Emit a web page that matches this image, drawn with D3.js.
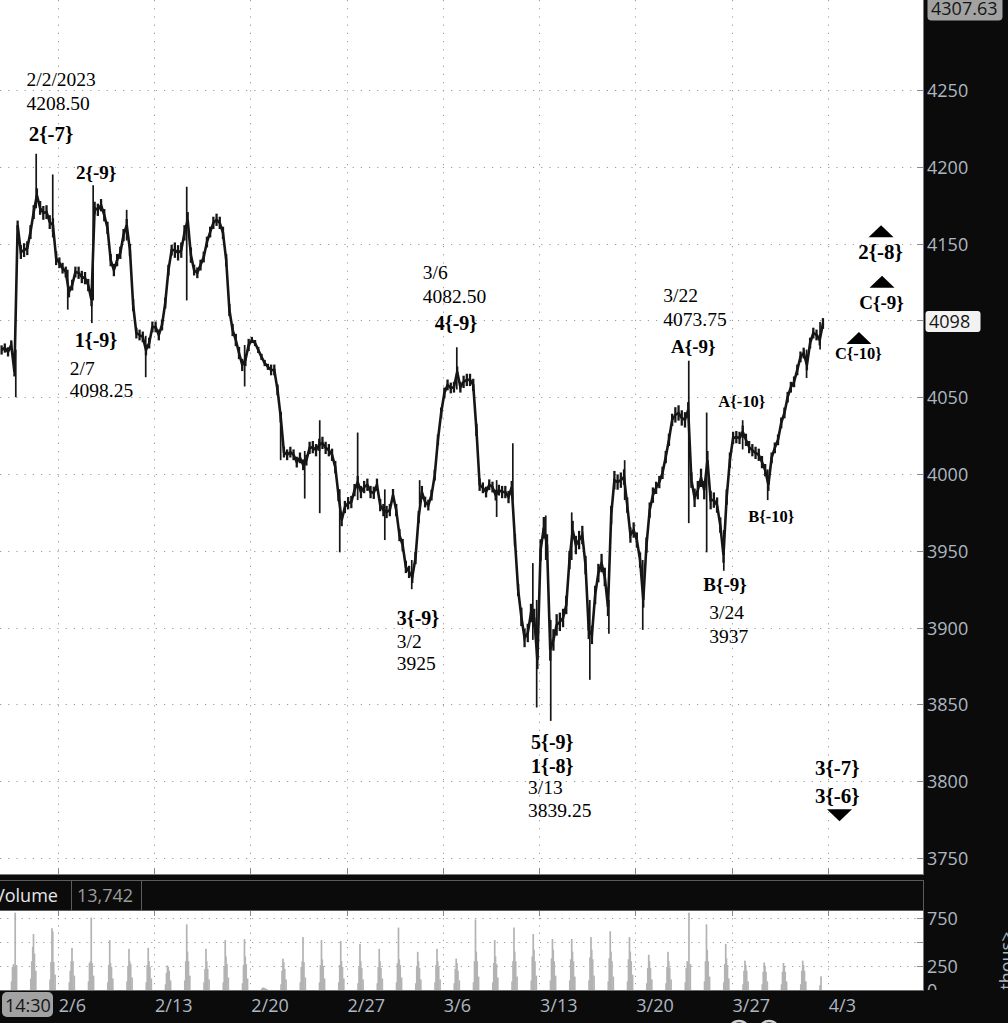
<!DOCTYPE html>
<html>
<head>
<meta charset="utf-8">
<script src="https://cdn.jsdelivr.net/npm/d3@7"></script>
<style>
  html, body { margin: 0; padding: 0; background: #0b0b0b; overflow: hidden; }
  svg { display: block; }
</style>
</head>
<body>
<svg id="chart" width="1008" height="1023"></svg>
<script>
// ---- ES futures, 2/1/2023 - 3/31/2023, intraday ----

// trading sessions shown (first session = day index -3)
const sessions = [
  "2/1","2/2","2/3",
  "2/6","2/7","2/8","2/9","2/10",
  "2/13","2/14","2/15","2/16","2/17",
  "2/20","2/21","2/22","2/23","2/24",
  "2/27","2/28","3/1","3/2","3/3",
  "3/6","3/7","3/8","3/9","3/10",
  "3/13","3/14","3/15","3/16","3/17",
  "3/20","3/21","3/22","3/23","3/24",
  "3/27","3/28","3/29","3/30","3/31"
];

// price path, six readings per session
const sessionPrices = [
  [4080.75, 4082, 4079.5, 4084, 4066.5, 4162],
  [4144.5, 4145.75, 4147, 4157.5, 4170.5, 4181.5],
  [4173.25, 4170, 4170.5, 4164, 4162, 4140.5],
  [4137.5, 4134, 4131.5, 4118.5, 4123, 4131.5],
  [4131, 4128.25, 4127.5, 4123, 4113.25, 4173.25],
  [4172, 4175, 4168.5, 4160.25, 4139.25, 4132.75],
  [4139.25, 4144, 4155.5, 4162, 4145.75, 4110],
  [4091.75, 4090.5, 4089.25, 4080.75, 4085.25, 4095.75],
  [4095.75, 4090.5, 4097, 4111.25, 4132.75, 4145.75],
  [4145.75, 4144, 4145.75, 4157, 4165.5, 4142.5],
  [4132.75, 4131, 4136, 4141.25, 4151, 4157.5],
  [4163.5, 4165.5, 4163.5, 4157, 4139.25, 4106.75],
  [4093.75, 4087.25, 4078.75, 4071, 4074.25, 4084],
  [4087.25, 4085.25, 4080.75, 4076.25, 4072.25, 4069.75],
  [4067.75, 4067.75, 4054.75, 4037, 4014.25, 4012.5],
  [4014.25, 4012.5, 4007.75, 4010.5, 4006, 4009],
  [4017, 4017.5, 4015.5, 4019, 4020.25, 4017],
  [4015.5, 4012.5, 4004.5, 3986.25, 3970, 3978.5],
  [3981, 3981.75, 3989.5, 3994.75, 3988.25, 3991.5],
  [3993, 3988.25, 3987.75, 3993, 3979.75, 3976.5],
  [3975.25, 3976.5, 3986.25, 3976.5, 3960.25, 3953.75],
  [3939.5, 3936.25, 3933, 3945.25, 3972, 3988.25],
  [3981.75, 3979.75, 3986.25, 3999.25, 4022.25, 4039.75],
  [4052.75, 4058, 4056, 4056.5, 4066.5, 4056.5],
  [4060, 4061.25, 4061.25, 4058, 4028.75, 3993],
  [3991, 3988.25, 3993, 3991.5, 3986.25, 3989.5],
  [3988.25, 3988.25, 3985, 3991.5, 3957, 3924.5],
  [3907, 3893.25, 3896.5, 3909.5, 3906.25, 3879],
  [3950.5, 3965, 3953.75, 3885.5, 3892, 3901.75],
  [3903.75, 3906.25, 3914.75, 3944, 3963.5, 3953.75],
  [3957, 3960.25, 3940.75, 3898.5, 3895.25, 3921.25],
  [3935.5, 3942, 3933, 3913.5, 3973.25, 3996],
  [3994.75, 3996, 3998, 3979.75, 3960.25, 3963.5],
  [3957, 3944, 3918, 3953.75, 3976.5, 3986.25],
  [3991, 3994.75, 4000.75, 4011, 4022.25, 4035.25],
  [4038.5, 4039.75, 4036.5, 4035.25, 4041.75, 3996],
  [3984.5, 3989.5, 3997.5, 3989.5, 4009, 3983],
  [3983, 3979.75, 3966.75, 3947.25, 3985, 4009],
  [4023.5, 4024, 4023.5, 4027.5, 4022.25, 4017.5],
  [4015.5, 4013.75, 4012.5, 4007.75, 4002.5, 3993],
  [4010.5, 4017, 4022.25, 4033.25, 4039.75, 4050],
  [4056.5, 4060, 4067.75, 4076.25, 4078.75, 4071],
  [4085.25, 4091.75, 4090.5, 4087.25, 4098]
];

// typical bar range (high - low, points) in each session
const sessionRange = [
  6, 9, 9, 7, 8, 8, 8, 7,
  7, 10, 7, 8, 8,
  4, 7, 7, 8, 8,
  8, 8, 8, 8, 7,
  7, 8, 7, 8, 12,
  14, 12, 12, 12, 10,
  10, 8, 10, 12, 10,
  8, 8, 7, 7, 7
];

// intraday spikes: [day, high, low]
const wicks = [
  [-2.18, 4081, 4050], [-0.26, 4195, 4154], [0.52, 4133, 4107],
  [1.84, 4188, 4113], [3.58, 4172, 4152], [4.57, 4090, 4063],
  [6.70, 4187, 4113], [9.71, 4084, 4057], [11.58, 4040, 4009],
  [12.83, 4015, 3984], [13.61, 4035, 3974.5], [14.65, 3990, 3949],
  [15.58, 4027, 3983], [16.99, 3990, 3957], [18.80, 3996, 3980],
  [22.80, 3996, 3972], [23.64, 4020, 3983], [24.68, 3942, 3892],
  [24.88, 3918, 3848], [25.35, 3973, 3944], [26.70, 3975, 3944],
  [27.64, 3918, 3866], [28.63, 3918, 3896], [29.45, 4009, 3983],
  [30.39, 3944, 3898.5], [33.71, 4040, 3949], [35.58, 4035, 4016],
  [36.88, 4003, 3983], [38.90, 4081, 4062.5], [39.60, 4099, 4081]
];

// labelled swing points
const pivotDates  = ["2/2/2023", "2/7", "3/2", "3/6", "3/13", "3/22", "3/24"];
const pivotPrices = [4208.50, 4098.25, 3925, 4082.50, 3839.25, 4073.75, 3937];
const pivotDays   = [-1.12, 1.77, 18.39, 20.73, 25.61, 32.78, 34.60];
const pivotOther  = [4173, 4126, 3944, 4055, 3905, 3968, 3963.5];
const pivotWaves  = [["2{-7}"], ["1{-9}"], ["3{-9}"], ["4{-9}"], ["5{-9}", "1{-8}"], ["A{-9}"], ["B{-9}"]];

// smaller wave marks on spikes
const minorLabels = ["2{-9}", "A{-10}", "B{-10}"];
const minorDays   = [1.84, 35.58, 36.88];
const minorPrices = [4188, 4035, 3983];

// projected levels
const targetLabels = [["2{-8}"], ["C{-9}"], ["C{-10}"], ["3{-7}", "3{-6}"]];
const targetPrices = [4162, 4129, 4092.5, 3774];
const targetDir    = ["up", "up", "up", "down"];

// volume (thousands), six bars around the cash session of each day
const sessionVolume = [
  [90, 240, 270, 250, 806, 260],
  [120, 300, 449, 582, 380, 200],
  [110, 292, 643, 610, 292, 160],
  [80, 200, 300, 439, 300, 150],
  [90, 280, 300, 755, 280, 150],
  [80, 260, 520, 280, 240, 120],
  [90, 250, 429, 300, 270, 130],
  [80, 260, 439, 300, 240, 120],
  [60, 180, 255, 240, 200, 100],
  [100, 300, 684, 400, 300, 150],
  [80, 220, 429, 300, 220, 110],
  [80, 250, 520, 350, 270, 130],
  [70, 260, 530, 350, 270, 120],
  [15, 25, 25, 20, 15, 10],
  [60, 200, 327, 290, 220, 110],
  [80, 240, 300, 551, 290, 130],
  [80, 260, 520, 320, 250, 120],
  [80, 260, 510, 300, 240, 120],
  [70, 250, 480, 300, 230, 110],
  [70, 240, 429, 300, 230, 120],
  [80, 280, 650, 320, 260, 130],
  [70, 250, 398, 300, 230, 110],
  [80, 260, 429, 300, 240, 110],
  [70, 220, 327, 280, 200, 100],
  [80, 300, 735, 400, 300, 140],
  [80, 280, 520, 350, 270, 130],
  [90, 300, 650, 400, 300, 140],
  [100, 350, 582, 420, 300, 150],
  [100, 330, 531, 420, 300, 150],
  [100, 320, 531, 400, 300, 140],
  [100, 340, 551, 420, 320, 150],
  [90, 330, 612, 400, 300, 140],
  [90, 320, 551, 400, 300, 160],
  [70, 230, 367, 300, 230, 110],
  [70, 240, 398, 300, 230, 110],
  [80, 230, 300, 280, 806, 270],
  [90, 300, 684, 420, 300, 140],
  [80, 270, 480, 330, 260, 120],
  [60, 200, 306, 260, 200, 90],
  [60, 190, 286, 250, 190, 90],
  [60, 190, 282, 250, 190, 90],
  [60, 200, 306, 260, 200, 90],
  [50, 143]
];

const weekLabels = ["2/6", "2/13", "2/20", "2/27", "3/6", "3/13", "3/20", "3/27", "4/3"];
const priceTicks = [3750, 3800, 3850, 3900, 3950, 4000, 4050, 4100, 4150, 4200, 4250];
const volumeTicks = [250, 500, 750];
const scaleTop = 4307.63;
const lastPrice = 4098;
const lastVolume = "13,742";
const cursorTime = "14:30";

// ---- layout ----
const W = 1008, H = 1023;
const plotRight = 923;
const priceTop = 0, priceBottom = 874;
const volTop = 911, volBottom = 990;
const svg = d3.select("#chart");

const x = d3.scaleLinear().domain([-3, 45]).range([0, 924]);
const y = d3.scaleLinear().domain([3750, 4250]).range([858, 90]);
const yv = d3.scaleLinear().domain([0, 750]).range([990, 918]);

const axisColor = "#aeb7c1";
const sans = "'Open Sans', 'Noto Sans', sans-serif";
const serif = "'Liberation Serif', 'Times New Roman', serif";

svg.append("rect").attr("width", W).attr("height", H).attr("fill", "#0b0b0b");

// panels
svg.append("rect").attr("x", 0).attr("y", priceTop).attr("width", plotRight).attr("height", priceBottom - priceTop).attr("fill", "#ffffff");
svg.append("rect").attr("x", 0).attr("y", volTop).attr("width", plotRight).attr("height", volBottom - volTop).attr("fill", "#ffffff");

const grid = svg.append("g").attr("stroke", "#9a9a9a").attr("stroke-width", 1).attr("stroke-dasharray", "1.2,7");
// horizontal price grid
grid.selectAll("line.hp").data(priceTicks).join("line")
  .attr("x1", 0).attr("x2", plotRight - 6)
  .attr("y1", d => Math.round(y(d)) + 0.5).attr("y2", d => Math.round(y(d)) + 0.5);
// vertical week grid
const weekDays = weekLabels.map((d, i) => i * 5);
grid.selectAll("line.vp").data(weekDays).join("line")
  .attr("x1", d => Math.round(x(d)) + 0.5).attr("x2", d => Math.round(x(d)) + 0.5)
  .attr("y1", priceTop).attr("y2", priceBottom);
const vgrid = svg.append("g").attr("stroke", "#9a9a9a").attr("stroke-width", 1).attr("stroke-dasharray", "1.2,6");
vgrid.selectAll("line.hv").data(volumeTicks).join("line")
  .attr("x1", 0).attr("x2", plotRight - 6)
  .attr("y1", d => Math.round(yv(d)) + 0.5).attr("y2", d => Math.round(yv(d)) + 0.5);
vgrid.selectAll("line.vv").data(weekDays).join("line")
  .attr("x1", d => Math.round(x(d)) + 0.5).attr("x2", d => Math.round(x(d)) + 0.5)
  .attr("y1", volTop).attr("y2", volBottom);

// solid week ticks at panel edges
const edgeTicks = svg.append("g").attr("stroke", "#888").attr("stroke-width", 1);
weekDays.forEach(d => {
  const xx = Math.round(x(d)) + 0.5;
  edgeTicks.append("line").attr("x1", xx).attr("x2", xx).attr("y1", priceBottom - 6).attr("y2", priceBottom);
  edgeTicks.append("line").attr("x1", xx).attr("x2", xx).attr("y1", volTop).attr("y2", volTop + 5);
});

// ---- price ----
const pricePoints = [];
sessionPrices.forEach((vals, i) => {
  const day = i - 3;
  vals.forEach((v, k) => pricePoints.push({ t: day + (k + 0.5) / 6, v, r: sessionRange[i] }));
});

const ink = "#161616";
svg.append("g").attr("stroke", ink).attr("stroke-width", 1.7)
  .selectAll("line").data(wicks).join("line")
  .attr("x1", d => x(d[0])).attr("x2", d => x(d[0]))
  .attr("y1", d => y(d[1])).attr("y2", d => y(d[2]));

svg.append("g").attr("stroke", ink).attr("stroke-width", 1.7)
  .selectAll("line").data(pivotPrices).join("line")
  .attr("x1", (d, i) => x(pivotDays[i])).attr("x2", (d, i) => x(pivotDays[i]))
  .attr("y1", d => y(d)).attr("y2", (d, i) => y(pivotOther[i]));

// intraday bars: each reading spans its session's typical range
svg.append("g").attr("stroke", ink).attr("stroke-width", 2.3)
  .selectAll("line").data(pricePoints).join("line")
  .attr("x1", d => x(d.t)).attr("x2", d => x(d.t))
  .attr("y1", d => y(d.v + d.r / 2)).attr("y2", d => y(d.v - d.r / 2));

svg.append("path").datum(pricePoints)
  .attr("fill", "none").attr("stroke", ink).attr("stroke-width", 2.6)
  .attr("stroke-linejoin", "miter")
  .attr("d", d3.line().x(d => x(d.t)).y(d => y(d.v)));

// ---- volume ----
const volOffsets = [0.60, 0.65, 0.70, 0.74, 0.79, 0.86];
const volBars = [];
sessionVolume.forEach((vals, i) => {
  const day = i - 3;
  vals.forEach((v, k) => volBars.push([day + volOffsets[k], v]));
});
svg.append("g").attr("fill", "#b3b3b3")
  .selectAll("rect").data(volBars).join("rect")
  .attr("x", d => x(d[0]) - 0.85).attr("width", 1.7)
  .attr("y", d => Math.max(volTop, yv(d[1])))
  .attr("height", d => volBottom - Math.max(volTop, yv(d[1])));

// ---- panel frames ----
svg.append("line").attr("x1", plotRight + 0.5).attr("x2", plotRight + 0.5).attr("y1", 0).attr("y2", priceBottom).attr("stroke", "#7a7a7a");
svg.append("line").attr("x1", 0).attr("x2", plotRight + 1).attr("y1", priceBottom + 0.5).attr("y2", priceBottom + 0.5).attr("stroke", "#7a7a7a");
svg.append("line").attr("x1", plotRight + 0.5).attr("x2", plotRight + 0.5).attr("y1", volTop).attr("y2", volBottom).attr("stroke", "#7a7a7a");

// right price axis
const pAxis = svg.append("g");
priceTicks.forEach(t => {
  const yy = Math.round(y(t)) + 0.5;
  pAxis.append("line").attr("x1", plotRight - 6).attr("x2", plotRight).attr("y1", yy).attr("y2", yy).attr("stroke", "#8a8a8a");
  pAxis.append("text").attr("x", 927).attr("y", yy + 6.5).text(t)
    .attr("fill", axisColor).attr("font-family", sans).attr("font-size", 18);
});
// scale top value
pAxis.append("rect").attr("x", 927.5).attr("y", -4).attr("width", 75).attr("height", 24.5).attr("rx", 4)
  .attr("fill", "#a2a2a2");
pAxis.append("text").attr("x", 931).attr("y", y(scaleTop) + 13.5).text(scaleTop.toFixed(2))
  .attr("fill", "#151515").attr("font-family", sans).attr("font-size", 18);
// last price
const ly = y(lastPrice) - 2;
pAxis.append("rect").attr("x", 925.5).attr("y", ly - 10.5).attr("width", 55).attr("height", 21).attr("rx", 3)
  .attr("fill", "#f2f2f2");
pAxis.append("text").attr("x", 929).attr("y", ly + 6.5).text(lastPrice)
  .attr("fill", "#151515").attr("font-family", sans).attr("font-size", 18);

// volume header bar
svg.append("rect").attr("x", -2).attr("y", 880.5).attr("width", plotRight + 2.5).attr("height", 30)
  .attr("fill", "#0b0b0b").attr("stroke", "#5c5c5c");
[71.5, 141.5].forEach(xx => svg.append("line").attr("x1", xx).attr("x2", xx).attr("y1", 880.5).attr("y2", 910.5).attr("stroke", "#5c5c5c"));
svg.append("text").attr("x", -6).attr("y", 902).text("Volume").attr("fill", "#e6e6e6").attr("font-family", sans).attr("font-size", 18);
svg.append("text").attr("x", 77).attr("y", 902).text(lastVolume).attr("fill", "#9c9c9c").attr("font-family", sans).attr("font-size", 18);

// right volume axis
const vAxis = svg.append("g");
volumeTicks.forEach(t => {
  const yy = Math.round(yv(t)) + 0.5;
  vAxis.append("line").attr("x1", plotRight - 6).attr("x2", plotRight).attr("y1", yy).attr("y2", yy).attr("stroke", "#8a8a8a");
});
[750, 250, 0].forEach(t => {
  vAxis.append("text").attr("x", 927).attr("y", yv(t) + 6.5).text(t)
    .attr("fill", axisColor).attr("font-family", sans).attr("font-size", 18);
});
vAxis.append("text").attr("transform", "translate(1013,1000) rotate(-90)").text("<thous>")
  .attr("fill", axisColor).attr("font-family", sans).attr("font-size", 18);

// bottom time axis
svg.append("rect").attr("x", 0).attr("y", volBottom).attr("width", W).attr("height", H - volBottom).attr("fill", "#0b0b0b");
svg.append("line").attr("x1", 0).attr("x2", plotRight + 1).attr("y1", volBottom + 0.5).attr("y2", volBottom + 0.5).attr("stroke", "#6a6a6a");
weekLabels.forEach((lab, i) => {
  svg.append("text").attr("x", x(weekDays[i]) + 1).attr("y", 1012).text(lab)
    .attr("fill", axisColor).attr("font-family", sans).attr("font-size", 18);
});
svg.append("rect").attr("x", 2).attr("y", 992).attr("width", 51).attr("height", 25).attr("rx", 5).attr("fill", "#a2a2a2");
svg.append("text").attr("x", 5).attr("y", 1011.5).text(cursorTime).attr("fill", "#151515").attr("font-family", sans).attr("font-size", 18);
// toolbar glyphs peeking in at the bottom edge
[739, 769].forEach(cx => svg.append("circle").attr("cx", cx).attr("cy", 1031).attr("r", 10).attr("fill", "none").attr("stroke", "#cfcfcf").attr("stroke-width", 2.5));

// ---- annotations ----
const ann = svg.append("g").attr("fill", "#000");
function label(px, py, text, bold, size) {
  ann.append("text").attr("x", px).attr("y", py).text(text)
    .attr("font-family", serif).attr("font-weight", bold ? "bold" : "normal")
    .attr("font-size", size);
}
const fmtPrice = v => Number.isInteger(v) ? String(v) : v.toFixed(2);

// per pivot: [kind, dx, dy, size] entries; kind = date | price | wave index
const pivotLayout = [
  [["date", -9.7, -67.7, 19.5], ["price", -9.7, -43.7, 19.5], [0, -7.4, -12.7, 21]],
  [[0, -17, 23.6, 20], ["date", -22, 52, 19.5], ["price", -22, 73.6, 19.5]],
  [[0, -15, 36, 20], ["date", -15, 59, 19.5], ["price", -15, 81, 19.5]],
  [["date", -34, -68.3, 19.5], ["price", -34, -44.6, 19.5], [0, -22, -17.3, 20]],
  [[0, -19.7, 28, 20], [1, -19.7, 52, 20], ["date", -22.7, 73, 19.5], ["price", -22.7, 96, 19.5]],
  [["date", -25.5, -59, 19.5], ["price", -25.5, -35, 19.5], [0, -17.8, -7.5, 19]],
  [[0, -20.5, 20.3, 19], ["date", -14.5, 48.6, 19.5], ["price", -14.5, 72, 19.5]]
];
pivotPrices.forEach((p, i) => {
  const ax = x(pivotDays[i]), ay = y(p);
  pivotLayout[i].forEach(([kind, dx, dy, size]) => {
    if (kind === "date") label(ax + dx, ay + dy, pivotDates[i], false, size);
    else if (kind === "price") label(ax + dx, ay + dy, fmtPrice(p), false, size);
    else label(ax + dx, ay + dy, pivotWaves[i][kind], true, size);
  });
});

const minorLayout = [[-17.2, -6.6, 19], [-24.4, -13.5, 16.5], [-19.4, 21.6, 16.5]];
minorLabels.forEach((lab, i) => {
  const [dx, dy, size] = minorLayout[i];
  label(x(minorDays[i]) + dx, y(minorPrices[i]) + dy, lab, true, size);
});

// projections: triangle apex at the level, labels beside it
const targetDays = [42.77, 42.82, 41.62, 40.61];
const targetLayout = [
  [[-22.8, 34.1, 21]],
  [[-22.7, 33.4, 19]],
  [[-24, 27.4, 16.5]],
  [[-24.5, -46.1, 21], [-24.5, -18.4, 21]]
];
targetPrices.forEach((p, i) => {
  const ax = x(targetDays[i]), ay = y(p);
  const tw = 12.5, th = 12;
  const pts = targetDir[i] === "up"
    ? [[ax, ay], [ax - tw, ay + th], [ax + tw, ay + th]]
    : [[ax, ay], [ax - tw, ay - th], [ax + tw, ay - th]];
  ann.append("polygon").attr("points", pts.map(q => q.join(",")).join(" "));
  targetLayout[i].forEach(([dx, dy, size], k) => label(ax + dx, ay + dy, targetLabels[i][k], true, size));
});
</script>
</body>
</html>
